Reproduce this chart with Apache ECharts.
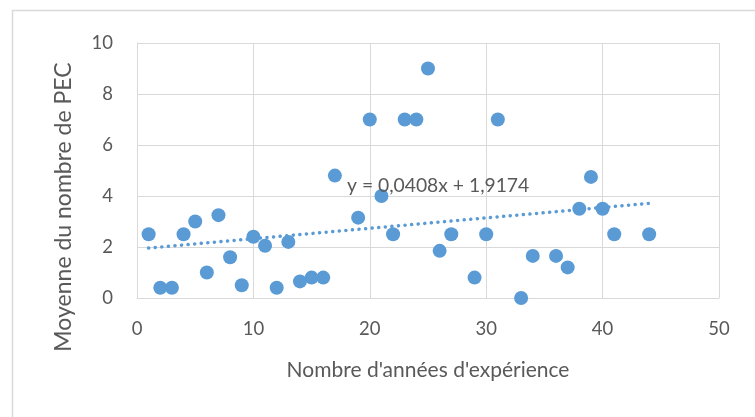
<!DOCTYPE html>
<html>
<head>
<meta charset="utf-8">
<script src="https://cdn.jsdelivr.net/npm/echarts@6/dist/echarts.min.js"></script>
<style>
  html, body { margin: 0; padding: 0; background: #fff; }
  #chart { width: 755px; height: 417px; }
</style>
</head>
<body>
<div id="chart"></div>
<script>
// Years of experience and the mean number of PEC for each
const years = [1, 2, 3, 4, 5, 6, 7, 8, 9, 10, 11, 12, 13, 14, 15, 16, 17, 19, 20, 21,
               22, 23, 24, 25, 26, 27, 29, 30, 31, 33, 34, 36, 37, 38, 39, 40, 41, 44];
const meanPec = [2.5, 0.4, 0.4, 2.5, 3.0, 1.0, 3.25, 1.6, 0.5, 2.4, 2.05, 0.4, 2.2, 0.65, 0.8, 0.8, 4.8, 3.15, 7.0, 4.0,
                 2.5, 7.0, 7.0, 9.0, 1.85, 2.5, 0.8, 2.5, 7.0, 0.0, 1.65, 1.65, 1.2, 3.5, 4.75, 3.5, 2.5, 2.5];

// Linear trend: y = slope * x + intercept
const slope = 0.0408;
const intercept = 1.9174;
const trendLabel = 'y = 0,0408x + 1,9174';

const xTicks = { min: 0, max: 50, interval: 10 };
const yTicks = { min: 0, max: 10, interval: 2 };

const points = years.map((x, i) => [x, meanPec[i]]);
const xFirst = Math.min(...years), xLast = Math.max(...years);
const trend = [[xFirst, slope * xFirst + intercept], [xLast, slope * xLast + intercept]];

const textColor = '#595959';
const gridColor = '#d9d9d9';
const font = 'Lato, "Open Sans", sans-serif';

const chart = echarts.init(document.getElementById('chart'), null, { renderer: 'canvas' });
chart.setOption({
  animation: false,
  backgroundColor: '#fff',
  grid: { left: 137, top: 43, right: 36, bottom: 119, containLabel: false },
  xAxis: {
    type: 'value', min: xTicks.min, max: xTicks.max, interval: xTicks.interval,
    axisLine: { show: true, lineStyle: { color: gridColor, width: 1 } },
    axisTick: { show: false },
    axisLabel: { color: textColor, fontSize: 18.5, fontFamily: font, margin: 22 },
    splitLine: { show: true, lineStyle: { color: gridColor, width: 1 } }
  },
  yAxis: {
    type: 'value', min: yTicks.min, max: yTicks.max, interval: yTicks.interval,
    axisLine: { show: true, lineStyle: { color: gridColor, width: 1 } },
    axisTick: { show: false },
    axisLabel: { color: textColor, fontSize: 18.5, fontFamily: font, margin: 24 },
    splitLine: { show: true, lineStyle: { color: gridColor, width: 1 } }
  },
  series: [
    {
      type: 'line',
      data: trend,
      symbol: 'none',
      z: 1,
      lineStyle: { color: '#5B9BD5', width: 3.5, type: [0.1, 6.5], cap: 'round' },
      silent: true
    },
    {
      type: 'scatter',
      data: points,
      symbolSize: 14,
      z: 2,
      itemStyle: { color: '#5B9BD5', opacity: 1 }
    }
  ],
  graphic: [
    {
      type: 'rect', left: 10, top: 8, z: -1, silent: true,
      shape: { width: 760, height: 420 },
      style: { fill: 'none', stroke: gridColor, lineWidth: 1.5 }
    },
    {
      type: 'text', x: 428, y: 370, z: 10,
      style: { text: "Nombre d'années d'expérience", fill: textColor, font: '21px ' + font,
               align: 'center', verticalAlign: 'middle' }
    },
    {
      type: 'text', x: 64, y: 207, rotation: Math.PI / 2, z: 10,
      style: { text: 'Moyenne du nombre de PEC', fill: textColor, font: '23px ' + font,
               align: 'center', verticalAlign: 'middle' }
    },
    {
      type: 'text', x: 347, y: 186, z: 10,
      style: { text: trendLabel, fill: textColor, font: '19.3px ' + font,
               align: 'left', verticalAlign: 'middle' }
    }
  ]
});
</script>
</body>
</html>
